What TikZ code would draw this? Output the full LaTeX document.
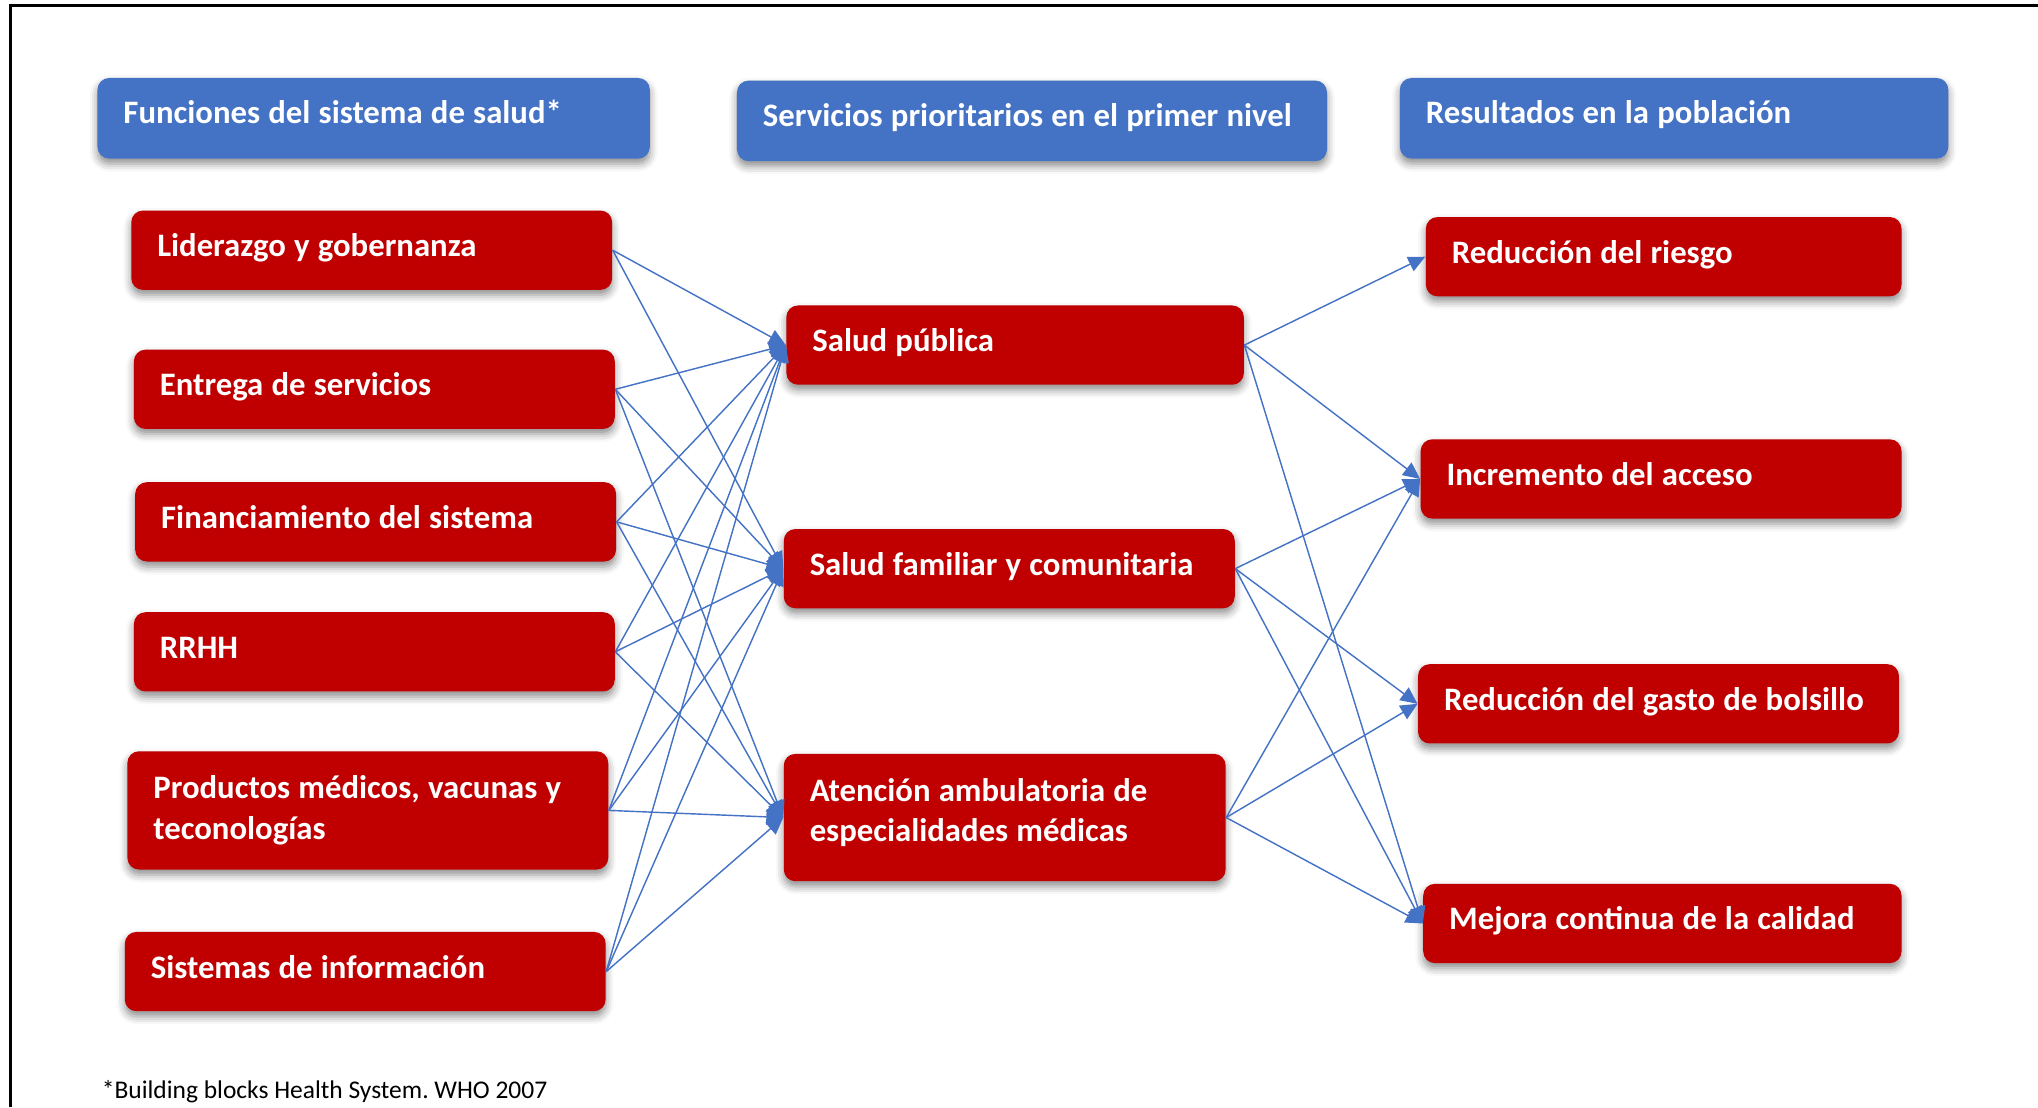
\documentclass[tikz,border=0pt]{standalone}
\usepackage{fontspec}
\setmainfont{Carlito}
\frenchspacing
\usetikzlibrary{arrows.meta,shadows.blur}
\definecolor{hdrblue}{HTML}{4472C4}
\definecolor{boxred}{HTML}{C00000}
\definecolor{linkblue}{HTML}{4472C4}
% box label type: bold, no hyphenation
\newcommand\cardtype{\fontsize{12.6}{15.5}\selectfont\bfseries\hyphenpenalty=10000\relax}
\newcommand\notetype{\fontsize{9.8}{12}\selectfont}
\tikzset{
  card/.style={rounded corners=4.5pt, inner xsep=10pt, inner ysep=0pt, align=left,
    text=white, anchor=center, font=\cardtype,
    execute at begin node={\spaceskip=0.25em plus 0.05em\relax\xspaceskip=0.25em\relax},
    blur shadow={shadow xshift=0pt, shadow yshift=-2pt, shadow blur radius=3pt, shadow opacity=45}},
  header/.style={card, fill=hdrblue, text height=9pt, text depth=5pt},
  redbox/.style={card, fill=boxred},
  oneline/.style={text height=9pt, text depth=4pt},
  link/.style={draw=linkblue, line width=0.55pt, -{Triangle[length=6.5pt,width=6pt]}},
}
\begin{document}
\begin{tikzpicture}[x=0.5pt, y=-0.5pt]
\useasboundingbox (0,0) rectangle (1568,852);
% page frame
\draw[line width=1pt] (8,852) -- (8,4) -- (1568,4);

% column headers
\node[header, text width=192.5pt, minimum height=31pt] (h1) at (287.5,91) {Funciones del sistema de salud*};
\node[header, text width=207pt, minimum height=31pt] (h2) at (794,93) {Servicios prioritarios en el primer nivel};
\node[header, text width=191pt, minimum height=31pt] (h3) at (1288,91) {Resultados en la población};

% health system functions
\node[redbox, oneline, text width=165pt, minimum height=30.5pt] (l1) at (286,192.5) {Liderazgo y gobernanza};
\node[redbox, oneline, text width=165pt, minimum height=30.5pt] (l2) at (288,299.5) {Entrega de servicios};
\node[redbox, oneline, text width=165pt, minimum height=30.5pt] (l3) at (289,401.5) {Financiamiento del sistema};
\node[redbox, oneline, text width=165pt, minimum height=30.5pt] (l4) at (288,501.5) {RRHH};
\node[redbox, text width=165pt, minimum height=45.5pt] (l5) at (283,623.5) {Productos médicos, vacunas y\\teconologías};
\node[redbox, oneline, text width=165pt, minimum height=30.5pt] (l6) at (281,747.5) {Sistemas de información};

% priority services (the strut lifts the two lines a little)
\node[redbox, oneline, text width=156pt, minimum height=30.5pt] (m1) at (781,265.5) {Salud pública};
\node[redbox, oneline, text width=153.5pt, minimum height=30.5pt] (m2) at (776.5,437.5) {Salud familiar y comunitaria};
\node[redbox, text width=150pt, minimum height=49pt] (m3) at (773,629) {Atención ambulatoria de\\especialidades médicas\rule[-5.6pt]{0pt}{5.6pt}};

% population outcomes
\node[redbox, oneline, text width=163pt, minimum height=30.5pt] (r1) at (1280,197.5) {Reducción del riesgo};
\node[redbox, oneline, text width=165pt, minimum height=30.5pt] (r2) at (1278,368.5) {Incremento del acceso};
\node[redbox, oneline, text width=165pt, minimum height=30.5pt] (r3) at (1276,541.5) {Reducción del gasto de bolsillo};
\node[redbox, oneline, text width=164pt, minimum height=30.5pt] (r4) at (1279,710.5) {Mejora continua de la calidad};

% footnote
\node[anchor=west, inner sep=0pt, font=\notetype] (note) at (78,840) {*Building blocks Health System. WHO 2007};

% functions -> services
\foreach \s/\t in {l1/m1, l1/m2,
                   l2/m1, l2/m2, l2/m3,
                   l3/m1, l3/m2, l3/m3,
                   l4/m1, l4/m2, l4/m3,
                   l5/m1, l5/m2, l5/m3,
                   l6/m1, l6/m2, l6/m3}
  \draw[link] (\s.east) -- (\t.west);

% services -> outcomes
\foreach \s/\t in {m1/r1, m1/r2, m1/r4,
                   m2/r2, m2/r3, m2/r4,
                   m3/r2, m3/r3, m3/r4}
  \draw[link] (\s.east) -- (\t.west);
\end{tikzpicture}
\end{document}
